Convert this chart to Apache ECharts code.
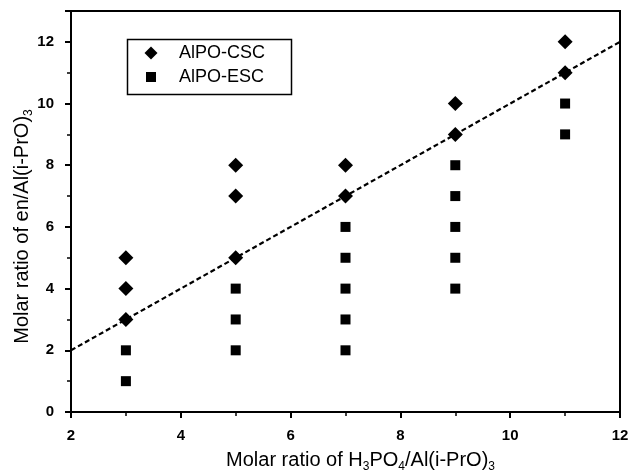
<!DOCTYPE html>
<html><head><meta charset="utf-8">
<script src="https://cdn.jsdelivr.net/npm/echarts@6/dist/echarts.min.js"></script>
<style>html,body{margin:0;padding:0;background:#fff}#c{width:633px;height:471px}</style>
</head><body><div id="c"></div>
<script>
var cscPoints = [[3,3],[3,4],[3,5],[5,5],[5,7],[5,8],[7,7],[7,8],[9,9],[9,10],[11,11],[11,12]];
var escPoints = [[3,1],[3,2],[5,2],[5,3],[5,4],[7,2],[7,3],[7,4],[7,5],[7,6],[9,4],[9,5],[9,6],[9,7],[9,8],[11,9],[11,10]];
var fitLine = [[2,2],[12,12]];
var xTicks = [2,4,6,8,10,12];
var yTicks = [0,2,4,6,8,10,12];

var chart = echarts.init(document.getElementById('c'));
var font = 'Liberation Sans, Arial, sans-serif';
var sub = {fontSize: 12, fontFamily: font, color:'#000', padding:[13,0,0,0]};
var nameMain = {fontFamily: font, fontSize: 20, color: '#000'};
var legText = {fontFamily: font, fontSize: 18, color: '#000', lineHeight: 18};
chart.setOption({
  animation: false,
  backgroundColor: '#fff',
  grid: {left: 71, right: 13, top: 11, bottom: 59, show: true, borderColor: '#000', borderWidth: 2,
    containLabel: false, outerBoundsMode: 'none'},
  graphic: [{type: 'rect', left: 125, top: 37, shape: {width: 164, height: 55},
    style: {fill: 'none', stroke: '#000', lineWidth: 1.5}, z: 10}],
  legend: [
    {left: 144.5, top: 44, padding: 0, itemWidth: 13, itemHeight: 13,
      textStyle: Object.assign({padding: [0,0,0,16.5]}, legText),
      data: [{name: 'AlPO-CSC', icon: 'diamond'}]},
    {left: 146, top: 68, padding: 0, itemWidth: 10, itemHeight: 10,
      textStyle: Object.assign({padding: [0,0,0,18]}, legText),
      data: [{name: 'AlPO-ESC', icon: 'rect'}]}
  ],
  xAxis: {
    type: 'value', min: 2, max: 12, interval: 2,
    axisLine: {lineStyle: {color: '#000', width: 2}},
    axisTick: {inside: false, length: 6, lineStyle: {width: 2, color:'#000'}},
    minorTick: {show: true, splitNumber: 2, length: 4, lineStyle: {width: 1.5, color:'#000'}},
    splitLine: {show: false},
    axisLabel: {fontFamily: font, fontSize: 15, fontWeight: 'bold', color: '#000', margin: 16,
      formatter: function(v){ return xTicks.indexOf(v) >= 0 ? String(v) : ''; }},
    name: '{t|Molar ratio of H}{s|3}{t|PO}{s|4}{t|/Al(i-PrO)}{s|3}',
    nameLocation: 'middle', nameGap: 36, nameMoveOverlap: false,
    nameTextStyle: {padding: [0, 0, 0, 30], rich: {t: nameMain, s: sub}}
  },
  yAxis: {
    type: 'value', min: 0, max: 13, interval: 2,
    axisLine: {lineStyle: {color: '#000', width: 2}},
    axisTick: {inside: false, length: 6, lineStyle: {width: 2, color:'#000'}},
    minorTick: {show: true, splitNumber: 2, length: 4, lineStyle: {width: 1.5, color:'#000'}},
    splitLine: {show: false},
    axisLabel: {fontFamily: font, fontSize: 15, fontWeight: 'bold', color: '#000', margin: 17,
      formatter: function(v){ return yTicks.indexOf(v) >= 0 ? String(v) : ''; }},
    name: '{t|Molar ratio of en/Al(i-PrO)}{s|3}',
    nameLocation: 'middle', nameGap: 36, nameMoveOverlap: false,
    nameTextStyle: {padding: [0, 30, 0, 0], rich: {t: nameMain, s: sub}}
  },
  series: [
    {name: 'fit', type: 'line', data: fitLine, symbol: 'none', silent: true,
      lineStyle: {color: '#000', width: 2.2, type: [5, 3]}, z: 1},
    {name: 'AlPO-CSC', type: 'scatter', data: cscPoints, symbol: 'diamond', symbolSize: 15,
      itemStyle: {color: '#000', opacity: 1}, z: 3},
    {name: 'AlPO-ESC', type: 'scatter', data: escPoints, symbol: 'rect', symbolSize: 10,
      itemStyle: {color: '#000', opacity: 1}, z: 3}
  ]
});
</script></body></html>
